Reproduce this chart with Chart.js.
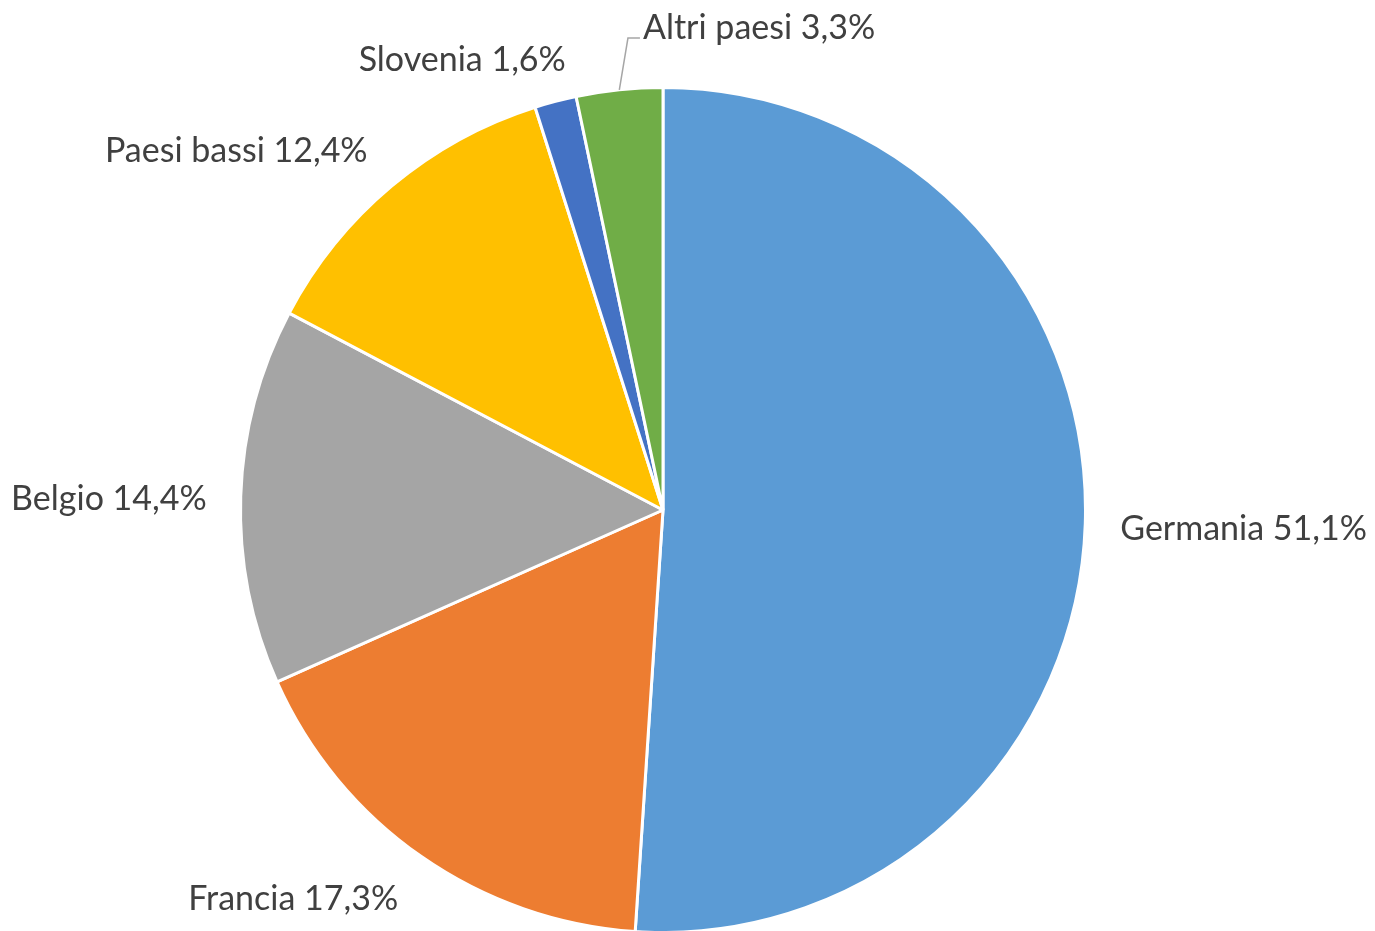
<!DOCTYPE html>
<html>
<head>
<meta charset="utf-8">
<script src="https://cdn.jsdelivr.net/npm/chart.js@4"></script>
<style>
html,body{margin:0;padding:0;background:#fff;}
#wrap{width:1375px;height:931px;position:relative;}
</style>
</head>
<body>
<div id="wrap"><canvas id="c" width="1375" height="931"></canvas></div>
<script>
const categories = ["Germania", "Francia", "Belgio", "Paesi bassi", "Slovenia", "Altri paesi"];
const shares = [51.1, 17.3, 14.4, 12.4, 1.6, 3.3];
const valueLabels = ["51,1%", "17,3%", "14,4%", "12,4%", "1,6%", "3,3%"];
const colors = ["#5B9BD5", "#ED7D31", "#A5A5A5", "#FFC000", "#4472C4", "#70AD47"];

// label placement tweaks (px) relative to the computed outside anchor
const labelNudge = [[5, 4], [-6, 6], [-4, 4], [-5, 0], [18, 2], [0, 0]];
const leaderLabels = [false, false, false, false, false, true];

const outsideLabels = {
  id: 'outsideLabels',
  afterDatasetsDraw(chart) {
    const ctx = chart.ctx;
    const meta = chart.getDatasetMeta(0);
    ctx.save();
    ctx.font = '34px Lato, "Open Sans", sans-serif';
    ctx.fillStyle = '#404040';
    meta.data.forEach((arc, i) => {
      const p = arc.getProps(['x', 'y', 'startAngle', 'endAngle', 'outerRadius'], true);
      const mid = (p.startAngle + p.endAngle) / 2;
      const c = Math.cos(mid), s = Math.sin(mid);
      const text = categories[i] + ' ' + valueLabels[i];
      const h = 30;
      if (leaderLabels[i]) {
        const ex = p.x + c * p.outerRadius, ey = p.y + s * p.outerRadius;
        const r2 = p.outerRadius + 52;
        const ax = p.x + c * r2 + 14, ay = p.y + s * r2;
        ctx.strokeStyle = '#A6A6A6';
        ctx.lineWidth = 1.5;
        ctx.beginPath();
        ctx.moveTo(ex, ey);
        ctx.lineTo(ax, ay);
        ctx.lineTo(ax + 12, ay);
        ctx.stroke();
        ctx.textAlign = 'left';
        ctx.textBaseline = 'middle';
        ctx.fillText(text, ax + 15, ay - 10);
        return;
      }
      const r = p.outerRadius + 30;
      let ax = p.x + c * r + labelNudge[i][0];
      let ay = p.y + s * r + labelNudge[i][1];
      ctx.textAlign = c >= 0 ? 'left' : 'right';
      ctx.textBaseline = 'middle';
      const yc = ay + s * h / 2;
      ctx.fillText(text, ax, yc);
    });
    ctx.restore();
  }
};

new Chart(document.getElementById('c'), {
  type: 'pie',
  data: {
    labels: categories,
    datasets: [{
      data: shares,
      backgroundColor: colors,
      borderColor: '#ffffff',
      borderWidth: 3,
      radius: 422.5
    }]
  },
  options: {
    responsive: false,
    animation: false,
    layout: { padding: { left: 200, right: 249, top: 89, bottom: 0 } },
    plugins: {
      legend: { display: false },
      tooltip: { enabled: false }
    }
  },
  plugins: [outsideLabels]
});
</script>
</body>
</html>
